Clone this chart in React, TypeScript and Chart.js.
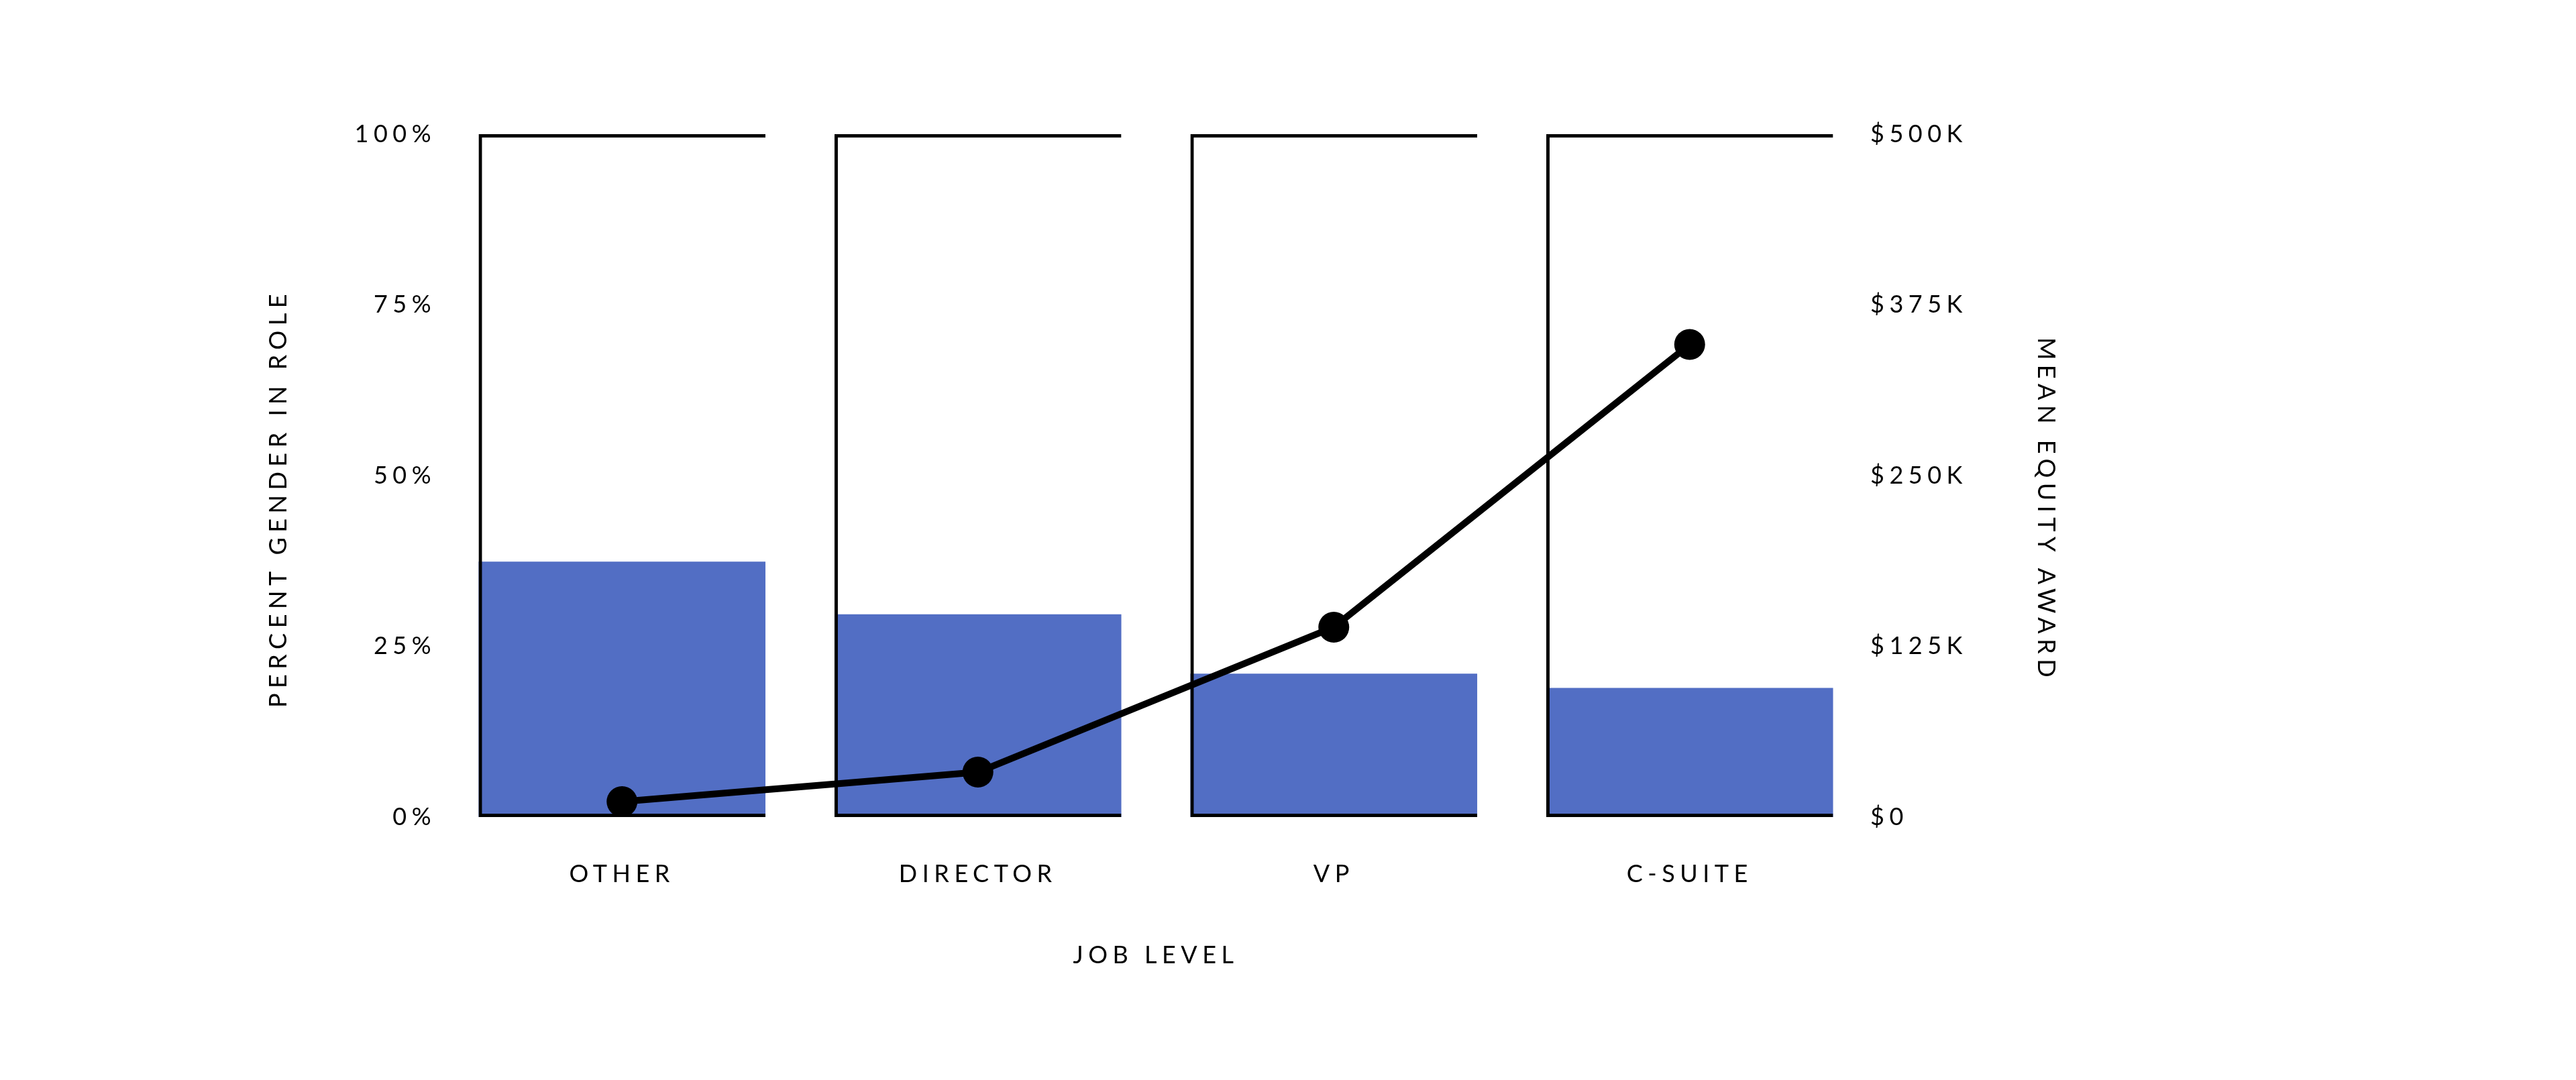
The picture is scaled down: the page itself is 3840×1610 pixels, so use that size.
import React, { useEffect, useRef } from 'react';
import Chart from 'chart.js/auto';

const jobLevels = ['OTHER', 'DIRECTOR', 'VP', 'C-SUITE'];
const percentInRole = [37.4, 29.7, 21.0, 18.9];
const meanEquity = [11300, 32900, 139000, 346000];
const frameTop = [100, 100, 100, 100];
const pctTicks = [0, 25, 50, 75, 100];
const equityTicks = [0, 125000, 250000, 375000, 500000];

const FONT = 'Lato, "Open Sans", sans-serif';
const SPACING = '7.5px';

// canvas letter spacing for all chart text
const spacingPlugin = {
    id: 'letterSpacing',
    beforeUpdate(chart: any) {
        chart.ctx.letterSpacing = SPACING;
    },
    beforeDraw(chart: any) {
        chart.ctx.letterSpacing = SPACING;
    },
};

// nudge a vertical axis title along the axis
const fitAxis = (width: number, dy: number) => (scale: any) => {
    scale.width = width;
    if (scale._titleShifted) return;
    const orig = scale.drawTitle;
    scale.drawTitle = function () {
        const c = this.ctx;
        c.save();
        c.translate(0, dy);
        orig.call(this);
        c.restore();
    };
    scale._titleShifted = true;
};

const App: React.FC = () => {
    const chartRef = useRef<HTMLCanvasElement>(null);

    useEffect(() => {
        if (!chartRef.current) return;
        const ctx = chartRef.current.getContext('2d');
        if (!ctx) return;

        const tickFont = { family: FONT, size: 36 };
        const titleFont = { family: FONT, size: 36 };

        const chart = new Chart(ctx, {
            type: 'bar',
            data: {
                labels: jobLevels,
                datasets: [
                    {
                        type: 'line',
                        label: 'Mean equity award',
                        data: meanEquity,
                        yAxisID: 'y1',
                        borderColor: '#000',
                        borderWidth: 10,
                        pointRadius: 23,
                        pointBackgroundColor: '#000',
                        pointBorderWidth: 0,
                        tension: 0,
                        order: 0,
                    },
                    {
                        type: 'bar',
                        label: 'frame',
                        data: frameTop,
                        yAxisID: 'y',
                        backgroundColor: 'rgba(0,0,0,0)',
                        borderColor: '#000',
                        borderWidth: { top: 5, left: 5, bottom: 5, right: 0 },
                        borderSkipped: false,
                        grouped: false,
                        categoryPercentage: 1,
                        barPercentage: 0.806,
                        order: 1,
                    },
                    {
                        type: 'bar',
                        label: 'Percent gender in role',
                        data: percentInRole,
                        yAxisID: 'y',
                        backgroundColor: '#526ec4',
                        borderWidth: 0,
                        grouped: false,
                        categoryPercentage: 1,
                        barPercentage: 0.806,
                        order: 2,
                    },
                ],
            } as any,
            options: {
                animation: false,
                responsive: true,
                maintainAspectRatio: false,
                layout: {
                    padding: { top: 192, bottom: 0, left: 360, right: 748 },
                },
                plugins: {
                    legend: { display: false },
                    tooltip: { enabled: false },
                },
                scales: {
                    x: {
                        grid: { display: false, drawTicks: false },
                        border: { display: false },
                        ticks: { font: tickFont, color: '#000', padding: 64 },
                        title: {
                            display: true,
                            text: 'JOB LEVEL',
                            font: titleFont,
                            color: '#000',
                            padding: { top: 0, bottom: 156 },
                        },
                        afterFit: (scale: any) => {
                            scale.height = 384;
                        },
                    },
                    y: {
                        position: 'left',
                        min: 0,
                        max: 100,
                        grid: { display: false, drawTicks: false },
                        border: { display: false },
                        afterBuildTicks: (scale: any) => {
                            scale.ticks = pctTicks.map((v) => ({ value: v }));
                        },
                        ticks: {
                            font: tickFont,
                            color: '#000',
                            padding: 12,
                            callback: (v: any) => v + '%',
                        },
                        title: {
                            display: true,
                            text: 'PERCENT GENDER IN ROLE',
                            font: titleFont,
                            color: '#000',
                            padding: { top: 26, bottom: 0 },
                        },
                        afterFit: fitAxis(294, 34),
                    },
                    y1: {
                        position: 'right',
                        min: 0,
                        max: 500000,
                        grid: { display: false, drawTicks: false },
                        border: { display: false },
                        afterBuildTicks: (scale: any) => {
                            scale.ticks = equityTicks.map((v) => ({ value: v }));
                        },
                        ticks: {
                            font: tickFont,
                            color: '#000',
                            padding: 4,
                            callback: (v: any) => (v === 0 ? '$0' : '$' + v / 1000 + 'K'),
                        },
                        title: {
                            display: true,
                            text: 'MEAN EQUITY AWARD',
                            font: titleFont,
                            color: '#000',
                            padding: { top: 13, bottom: 0 },
                        },
                        afterFit: fitAxis(300, 51),
                    },
                },
            },
            plugins: [spacingPlugin],
        });

        return () => {
            chart.destroy();
        };
    }, []);

    return (
        <div style={{ position: 'relative', height: '1594px' }}>
            <canvas ref={chartRef} />
        </div>
    );
};

export default App;
